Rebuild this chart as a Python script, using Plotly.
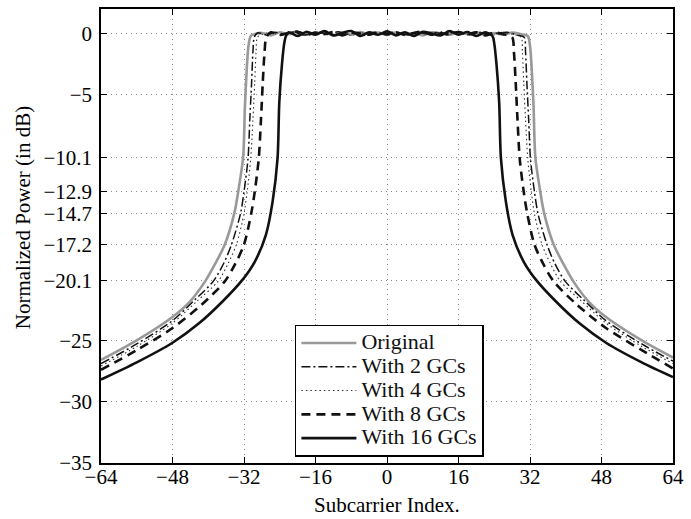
import plotly.graph_objects as go

# ---------------- data ----------------
series_names = ["Original", "With 2 GCs", "With 4 GCs", "With 8 GCs", "With 16 GCs"]

# Original
orig_left_x = [-64, -56, -48, -44, -40.7, -38.5, -36.3, -34.2, -33.3, -32.2, -31.8, -31.4, -31.0, -30.5]
orig_left_y = [-26.6, -25.0, -23.1, -21.8, -20.2, -18.8, -17.2, -14.7, -12.9, -10.1, -6.0, -3.0, -1.0, -0.2]
orig_in_x = list(range(-30, 31, 2))
orig_in_y = [-0.1, 0.05, -0.15, 0.1, -0.05, 0.15, -0.1, 0.0, 0.1, -0.15, 0.05, -0.1, 0.12, -0.05, 0.08, -0.12,
             0.1, -0.08, 0.05, -0.15, 0.1, 0.0, -0.1, 0.12, -0.05, 0.1, -0.12, 0.05, -0.1, 0.08, -0.05]
orig_right_x = [31.5, 32.0, 32.4, 32.8, 33.2, 34.3, 35.2, 37.3, 39.5, 41.7, 45, 49, 57, 64]
orig_right_y = [-0.2, -1.0, -3.0, -6.0, -10.1, -12.9, -14.7, -17.2, -18.8, -20.2, -21.8, -23.1, -25.0, -26.4]

# With 2 GCs
gc2_left_x = [-64, -56, -48, -43, -38.9, -36.5, -34.8, -32.8, -32.0, -31.1, -30.7, -30.3, -30.0, -29.7]
gc2_left_y = [-26.9, -25.3, -23.4, -21.7, -20.2, -18.7, -17.2, -14.7, -12.9, -10.2, -7.0, -4.0, -1.5, -0.3]
gc2_in_x = list(range(-29, 30, 2))
gc2_in_y = [0.05, -0.1, 0.1, -0.05, 0.12, -0.12, 0.0, 0.08, -0.1, 0.15, -0.05, 0.05, -0.15, 0.1, -0.08,
            0.1, 0.02, -0.12, 0.1, -0.05, 0.08, -0.1, 0.12, -0.02, -0.1, 0.1, -0.08, 0.05, 0.1, -0.12]
gc2_right_x = [30.7, 31.0, 31.3, 31.7, 32.1, 33.0, 33.8, 35.8, 37.5, 39.9, 44, 49, 57, 64]
gc2_right_y = [-0.3, -1.5, -4.0, -7.0, -10.2, -12.9, -14.7, -17.2, -18.7, -20.2, -21.7, -23.4, -25.3, -26.7]

# With 4 GCs
gc4_left_x = [-64, -56, -48, -42.5, -37.8, -35.5, -33.7, -32.0, -31.3, -30.5, -30.0, -29.6, -29.3, -29.0]
gc4_left_y = [-27.1, -25.5, -23.6, -21.8, -20.2, -18.7, -17.2, -14.7, -12.9, -10.2, -7.0, -4.0, -1.5, -0.3]
gc4_in_x = list(range(-28, 29, 2))
gc4_in_y = [-0.08, 0.1, -0.12, 0.05, 0.1, -0.1, 0.12, -0.05, 0.0, 0.1, -0.15, 0.08, -0.05, 0.12, -0.1,
            0.05, 0.1, -0.12, 0.05, -0.08, 0.15, -0.05, 0.1, -0.1, 0.0, 0.12, -0.1, 0.08, -0.05]
gc4_right_x = [30.0, 30.3, 30.6, 31.0, 31.5, 32.3, 33.0, 34.7, 36.5, 38.8, 43.5, 49, 57, 64]
gc4_right_y = [-0.3, -1.5, -4.0, -7.0, -10.2, -12.9, -14.7, -17.2, -18.7, -20.2, -21.8, -23.6, -25.5, -26.9]

# With 8 GCs
gc8_left_x = [-64, -56, -48, -41.5, -36.3, -34.0, -32.0, -30.4, -29.6, -28.7, -28.2, -27.8, -27.4, -27.0]
gc8_left_y = [-27.4, -25.8, -24.0, -22.1, -20.2, -18.8, -17.2, -14.7, -12.9, -10.2, -7.0, -4.0, -1.5, -0.3]
gc8_in_x = list(range(-26, 27, 2))
gc8_in_y = [0.1, -0.12, 0.05, 0.15, -0.1, 0.08, -0.05, 0.12, -0.15, 0.1, 0.0, -0.1, 0.12, -0.08, 0.1,
            -0.12, 0.05, 0.15, -0.1, 0.05, -0.08, 0.12, -0.05, 0.1, -0.15, 0.08, -0.05]
gc8_right_x = [28.0, 28.4, 28.8, 29.2, 29.7, 30.6, 31.4, 33.0, 35.0, 37.3, 42.5, 49, 57, 64]
gc8_right_y = [-0.3, -1.5, -4.0, -7.0, -10.2, -12.9, -14.7, -17.2, -18.8, -20.2, -22.1, -24.0, -25.8, -27.3]

# With 16 GCs
gc16_left_x = [-64, -56, -48, -42, -36.7, -32.4, -29.6, -27.1, -25.6, -24.5, -24.1, -23.5, -23.0, -22.6]
gc16_left_y = [-28.2, -26.8, -25.2, -23.6, -21.8, -20.1, -18.6, -16.4, -13.7, -10.2, -5.6, -2.5, -0.8, -0.2]
gc16_in_x = list(range(-22, 23, 2))
gc16_in_y = [0.1, -0.2, 0.15, -0.1, 0.2, -0.15, 0.05, 0.2, -0.2, 0.1, -0.1, 0.18, -0.15, 0.1, -0.2,
             0.15, 0.0, -0.15, 0.2, -0.1, 0.12, -0.2, 0.1]
gc16_right_x = [23.6, 24.0, 24.5, 25.1, 25.5, 26.6, 28.1, 30.6, 33.4, 37.7, 43, 49, 57, 64]
gc16_right_y = [-0.2, -0.8, -2.5, -5.6, -10.2, -13.7, -16.4, -18.6, -20.1, -21.8, -23.6, -25.2, -26.8, -28.0]

x_tick_vals = [-64, -48, -32, -16, 0, 16, 32, 48, 64]
x_tick_text = ["\u221264", "\u221248", "\u221232", "\u221216", "0", "16", "32", "48", "64"]
y_tick_vals = [0, -5, -10.1, -12.9, -14.7, -17.2, -20.1, -25, -30, -35]
y_tick_text = ["0", "\u22125", "\u221210.1", "\u221212.9", "\u221214.7", "\u221217.2", "\u221220.1",
               "\u221225", "\u221230", "\u221235"]

# ---------------- figure ----------------
series = [
    (orig_left_x + orig_in_x + orig_right_x, orig_left_y + orig_in_y + orig_right_y,
     dict(color="#999999", width=2.6, dash="solid")),
    (gc2_left_x + gc2_in_x + gc2_right_x, gc2_left_y + gc2_in_y + gc2_right_y,
     dict(color="#111111", width=1.5, dash="9px,3px,2px,3px")),
    (gc4_left_x + gc4_in_x + gc4_right_x, gc4_left_y + gc4_in_y + gc4_right_y,
     dict(color="#333333", width=1.1, dash="1.5px,3px")),
    (gc8_left_x + gc8_in_x + gc8_right_x, gc8_left_y + gc8_in_y + gc8_right_y,
     dict(color="#111111", width=2.6, dash="9px,6px")),
    (gc16_left_x + gc16_in_x + gc16_right_x, gc16_left_y + gc16_in_y + gc16_right_y,
     dict(color="#111111", width=2.6, dash="solid")),
]

FONT = "Liberation Serif"

fig = go.Figure()
for name, (xs, ys, ln) in zip(series_names, series):
    fig.add_trace(go.Scatter(
        x=xs, y=ys, mode="lines",
        name='<span style="font-size:22px">' + name + '</span>',
        line=dict(shape="spline", smoothing=0.8, **ln)))

axis_common = dict(showline=True, linecolor="black", linewidth=1.5, mirror="ticks",
                   ticks="inside", ticklen=6, tickcolor="black", tickwidth=1,
                   showgrid=True, gridcolor="#888888", gridwidth=1, griddash="1px,4px",
                   zeroline=False, tickfont=dict(family=FONT, size=21, color="black"))

fig.update_xaxes(range=[-64, 64], tickmode="array", tickvals=x_tick_vals, ticktext=x_tick_text,
                 ticklabelstandoff=-6, **axis_common)
fig.update_yaxes(range=[-35, 2], tickmode="array", tickvals=y_tick_vals, ticktext=y_tick_text,
                 ticklabelstandoff=3, **axis_common)

fig.update_layout(
    width=691, height=519,
    margin=dict(l=101, r=11, t=7, b=56),
    paper_bgcolor="white", plot_bgcolor="white",
    font=dict(family=FONT, size=21, color="black"),
    showlegend=True,
    legend=dict(x=0.339, y=0.305, xanchor="left", yanchor="top",
                bgcolor="white", bordercolor="black", borderwidth=1.5,
                font=dict(family=FONT, size=16, color="#111111"),
                tracegroupgap=0, itemwidth=55),
    annotations=[
        dict(text="Subcarrier Index.", xref="paper", yref="paper", x=0.5, y=-0.092,
             xanchor="center", yanchor="middle", showarrow=False,
             font=dict(family=FONT, size=21, color="black")),
        dict(text="Normalized Power (in dB)", xref="paper", yref="paper", x=-0.1375, y=0.54,
             xanchor="center", yanchor="middle", textangle=-90, showarrow=False,
             font=dict(family=FONT, size=21, color="black")),
    ],
)

fig.write_html("out.html")
